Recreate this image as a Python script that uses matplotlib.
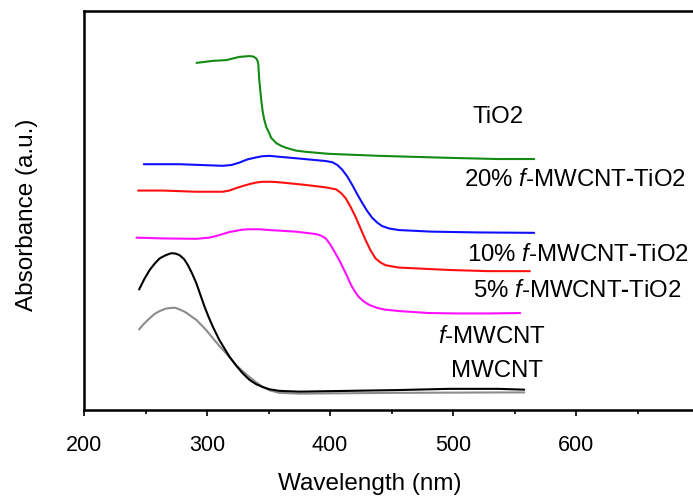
import matplotlib
matplotlib.use("Agg")
import matplotlib.pyplot as plt
from matplotlib.ticker import MultipleLocator, FixedLocator

plt.rcParams['font.family'] = ['Liberation Sans', 'DejaVu Sans']
plt.rcParams['mathtext.fontset'] = 'custom'
plt.rcParams['mathtext.rm'] = 'Liberation Sans'
plt.rcParams['mathtext.it'] = 'Liberation Sans:italic'
plt.rcParams['mathtext.bf'] = 'Liberation Sans:bold'

# ---- data (wavelength nm, absorbance a.u.) ----
tio2_x = [291.5, 304.5, 315.8, 326.3, 334.4, 337.6, 339.7, 340.9, 341.7, 342.1, 342.5,
          343.3, 344.1, 345.3, 346.6, 348.2, 350.6, 352.2, 356.3, 360.3, 364.4, 372.5,
          380.6, 399.2, 439.7, 496.3, 536.8, 566.0]
tio2_y = [0.870, 0.875, 0.877, 0.885, 0.887, 0.886, 0.882, 0.877, 0.867, 0.847, 0.827,
          0.802, 0.777, 0.747, 0.727, 0.709, 0.694, 0.682, 0.669, 0.662, 0.657, 0.650,
          0.647, 0.642, 0.637, 0.632, 0.629, 0.629]

c20_x = [248.6, 277.7, 312.8, 319.8, 326.3, 332.8, 339.8, 344.9, 350.6, 361.1, 372.2,
         396.5, 401.9, 406.0, 410.0, 414.1, 418.1, 422.1, 426.2, 430.2, 434.2, 438.3,
         442.3, 448.0, 455.9, 482.8, 520.6, 566.0]
c20_y = [0.616, 0.616, 0.612, 0.614, 0.620, 0.628, 0.633, 0.636, 0.637, 0.634, 0.631,
         0.624, 0.621, 0.614, 0.602, 0.585, 0.564, 0.541, 0.519, 0.499, 0.482, 0.470,
         0.461, 0.455, 0.451, 0.447, 0.445, 0.444]

c10_x = [244.0, 264.2, 291.3, 312.8, 318.2, 323.6, 328.7, 334.4, 339.7, 345.2, 353.0,
         361.4, 380.3, 396.5, 404.9, 408.9, 412.7, 416.6, 420.8, 424.7, 428.9, 432.8,
         437.0, 440.9, 445.1, 450.2, 455.9, 469.4, 496.3, 528.7, 562.5]
c10_y = [0.550, 0.550, 0.547, 0.547, 0.550, 0.556, 0.561, 0.566, 0.570, 0.572, 0.572,
         0.570, 0.564, 0.558, 0.553, 0.544, 0.531, 0.510, 0.484, 0.456, 0.426, 0.401,
         0.380, 0.370, 0.363, 0.360, 0.357, 0.355, 0.351, 0.348, 0.348]

c5_x = [242.7, 264.2, 291.3, 302.0, 307.3, 312.8, 318.2, 323.6, 328.7, 334.4, 342.5,
        350.6, 372.2, 388.4, 392.7, 396.5, 400.0, 403.6, 407.3, 410.5, 413.8, 417.0,
        420.2, 423.5, 427.5, 431.6, 437.2, 443.7, 455.9, 480.2, 504.4, 528.7, 554.6]
c5_y = [0.432, 0.430, 0.429, 0.432, 0.436, 0.441, 0.446, 0.449, 0.452, 0.453, 0.453,
        0.451, 0.447, 0.441, 0.437, 0.430, 0.416, 0.397, 0.377, 0.357, 0.336, 0.314,
        0.297, 0.283, 0.272, 0.264, 0.257, 0.252, 0.248, 0.243, 0.242, 0.242, 0.243]

fmw_x = [244.8, 249.0, 253.4, 257.5, 261.5, 266.4, 271.0, 274.5, 277.7, 281.4, 284.5,
         287.9, 291.3, 294.7, 298.0, 301.2, 304.7, 310.1, 318.2, 323.5, 329.0, 334.4,
         339.8, 344.9, 350.6, 358.7, 374.9, 415.4, 455.9, 496.3, 536.8, 557.9]
fmw_y = [0.302, 0.328, 0.351, 0.367, 0.380, 0.388, 0.393, 0.392, 0.388, 0.378, 0.363,
         0.342, 0.318, 0.288, 0.259, 0.234, 0.209, 0.175, 0.134, 0.112, 0.092, 0.076,
         0.065, 0.058, 0.052, 0.048, 0.046, 0.048, 0.050, 0.053, 0.053, 0.051]

mw_x = [244.8, 249.0, 253.4, 257.5, 261.5, 266.4, 271.0, 274.5, 277.7, 281.4, 284.5,
        287.9, 291.3, 295.1, 299.4, 306.1, 310.5, 315.5, 323.6, 328.7, 334.4, 339.7,
        345.2, 351.4, 358.7, 366.8, 374.9, 455.9, 536.8, 557.9]
mw_y = [0.202, 0.217, 0.230, 0.241, 0.248, 0.254, 0.256, 0.256, 0.252, 0.247, 0.241,
        0.233, 0.226, 0.214, 0.200, 0.175, 0.159, 0.142, 0.113, 0.098, 0.083, 0.070,
        0.058, 0.049, 0.043, 0.042, 0.041, 0.043, 0.044, 0.044]

series = [
    (tio2_x, tio2_y, '#138a13'),
    (c20_x, c20_y, '#1010ff'),
    (c10_x, c10_y, '#ff1010'),
    (c5_x, c5_y, '#ff10ff'),
    (mw_x, mw_y, '#8c8c8c'),
    (fmw_x, fmw_y, '#000000'),
]

dash = '$\\mathbf{\u2010}$'
labels = ['TiO2',
          '20% $\\mathit{f}$-MWCNT' + dash + 'TiO2',
          '10% $\\mathit{f}$-MWCNT' + dash + 'TiO2',
          '5% $\\mathit{f}$-MWCNT' + dash + 'TiO2',
          '$\\mathit{f}$-MWCNT',
          'MWCNT']
label_x = [536.5, 599.0, 602.0, 601.5, 531.6, 535.5]
label_y = [0.734, 0.576, 0.388, 0.298, 0.183, 0.098]

xticks = [200, 300, 400, 500, 600]

# ---- figure ----
fig = plt.figure(figsize=(6.93, 5.0), dpi=100)
ax = fig.add_axes([84 / 693, 90 / 500, 615 / 693, 399 / 500])

for x, y, c in series:
    ax.plot(x, y, color=c, lw=1.5, solid_capstyle='round', solid_joinstyle='round')

for t, lx, ly in zip(labels, label_x, label_y):
    ax.text(lx, ly, t, ha='center', va='center', fontsize=17.3, color='black')

ax.set_xlim(200, 700)
ax.set_ylim(0, 1.0)
ax.xaxis.set_major_locator(FixedLocator(xticks))
ax.xaxis.set_minor_locator(MultipleLocator(50))
ax.set_xticklabels([str(v) for v in xticks])
ax.set_yticks([])
ax.tick_params(axis='x', which='major', direction='out', length=4, width=1.2,
               labelsize=15.5, pad=14)
ax.tick_params(axis='x', which='minor', direction='out', length=3, width=1.2)
for sp in ax.spines.values():
    sp.set_linewidth(1.8)

fig.text(27 / 693, 1 - 215 / 500, 'Absorbance (a.u.)', rotation=90,
         ha='center', va='center', fontsize=17.5)
fig.text(370 / 693, 1 - 484 / 500, 'Wavelength (nm)', ha='center', va='center',
         fontsize=17.5)

fig.savefig('out.png', dpi=100)
